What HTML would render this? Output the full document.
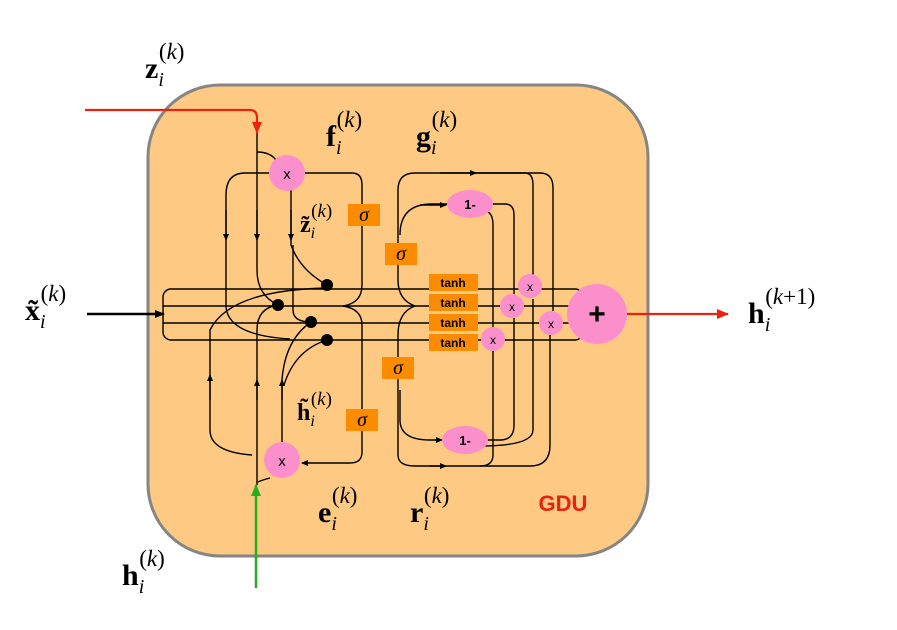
<!DOCTYPE html>
<html><head><meta charset="utf-8"><style>
html,body{margin:0;padding:0;background:#fff}
svg{display:block}
.m{font-family:"Liberation Serif",serif;}
</style></head><body>
<svg width="897" height="630" viewBox="0 0 897 630" xmlns="http://www.w3.org/2000/svg">
<defs>
<marker id="ak" markerWidth="10" markerHeight="8" refX="9" refY="4" orient="auto" markerUnits="userSpaceOnUse"><path d="M0,0 L10,4 L0,8z" fill="#000"/></marker>
<marker id="as" markerWidth="7" markerHeight="6" refX="6" refY="3" orient="auto" markerUnits="userSpaceOnUse"><path d="M0,0 L7,3 L0,6z" fill="#000"/></marker>
<marker id="ar" markerWidth="12" markerHeight="10" refX="11" refY="5" orient="auto" markerUnits="userSpaceOnUse"><path d="M0,0 L12,5 L0,10z" fill="#e8230f"/></marker>
<marker id="ag" markerWidth="12" markerHeight="10" refX="11" refY="5" orient="auto" markerUnits="userSpaceOnUse"><path d="M0,0 L12,5 L0,10z" fill="#22b01c"/></marker>
</defs>
<rect x="148" y="85" width="500" height="471" rx="72" fill="#fec983" stroke="#858585" stroke-width="3"/>

<g fill="none" stroke="#000" stroke-width="1.4">
<rect x="163" y="289" width="420" height="51" rx="8"/>
<line x1="163" y1="306" x2="580" y2="306"/>
<line x1="163" y1="323" x2="580" y2="323"/>
<path d="M257,130 V270 Q257,295 278,305"/>
<path d="M257,210 V240" marker-end="url(#as)"/>
<path d="M257,152 Q270,152 276,160"/>
<path d="M270,173 H245 Q226,173 226,195 V305 Q226,335 290,339"/>
<path d="M226,210 V240" marker-end="url(#as)"/>
<path d="M305,173 H352 Q362,173 362,185 V285 Q362,303 343,306 Q362,309 362,325 V452 Q362,463 350,463 H302" marker-end="url(#as)"/>
<path d="M291,190 V245 Q300,270 327,285"/>
<path d="M291,210 V240" marker-end="url(#as)"/>
<path d="M293,245 V310 Q293,322 311,322"/>
<path d="M327,288 Q230,290 210,330 V430 Q210,452 252,455"/>
<path d="M210,400 V375" marker-end="url(#as)"/>
<path d="M278,305 Q257,308 257,330 V485"/>
<path d="M257,400 V380" marker-end="url(#as)"/>
<path d="M282,442 V380 Q285,340 311,322"/>
<path d="M282,400 V380" marker-end="url(#as)"/>
<path d="M284,385 Q295,350 327,340"/>
<path d="M270,478 Q262,480 258,482"/>
<path d="M415,306 Q398,300 398,280 V190 Q398,173 415,173 H525 Q533,173 533,185 V276"/>
<path d="M440,173 H476" marker-end="url(#as)"/>
<path d="M470,173 H540 Q553,173 553,188 V311"/>
<path d="M448,204 H432 Q400,204 400,235"/>
<path d="M420,205 H446" marker-end="url(#as)"/>
<path d="M490,204 H505 Q514,204 514,215 V294"/>
<path d="M488,212 Q493,215 493,225 V327"/>
<path d="M493,351 V455 Q493,466 480,466"/>
<path d="M415,306 Q398,312 398,335 V455 Q398,466 415,466 H530 Q550,466 550,445 V335"/>
<path d="M430,466 H446" marker-end="url(#as)"/>
<path d="M400,390 V420 Q400,440 430,440 H442" marker-end="url(#as)"/>
<path d="M485,440 H500 Q514,440 514,425 V318"/>
<path d="M480,446 Q533,446 533,430 V299"/>
</g>
<g font-family="Liberation Sans,sans-serif" font-weight="bold" font-size="12" text-anchor="middle">
<rect x="429" y="274" width="49" height="17" fill="#fb8c00"/><text x="453" y="287">tanh</text>
<rect x="429" y="294" width="49" height="17" fill="#fb8c00"/><text x="453" y="307">tanh</text>
<rect x="429" y="314" width="49" height="17" fill="#fb8c00"/><text x="453" y="327">tanh</text>
<rect x="429" y="334" width="49" height="17" fill="#fb8c00"/><text x="453" y="347">tanh</text>
</g>
<g font-family="Liberation Serif,serif" font-style="italic" font-size="20" text-anchor="middle">
<rect x="348" y="204" width="32" height="22" fill="#fb8c00"/><text x="364" y="221">σ</text>
<rect x="385" y="243" width="32" height="22" fill="#fb8c00"/><text x="401" y="260">σ</text>
<rect x="382" y="357" width="32" height="22" fill="#fb8c00"/><text x="398" y="374">σ</text>
<rect x="346" y="409" width="32" height="22" fill="#fb8c00"/><text x="362" y="426">σ</text>
</g>
<g fill="#000"><circle cx="327" cy="285" r="6"/><circle cx="278" cy="305" r="6"/><circle cx="311" cy="322" r="6"/><circle cx="327" cy="340" r="6"/></g>
<g fill="#fb8fcc">
<circle cx="287" cy="173" r="18"/><circle cx="282" cy="460" r="18"/>
<ellipse cx="470" cy="204" rx="23" ry="14"/><ellipse cx="465" cy="440" rx="23" ry="14"/>
<circle cx="530" cy="286" r="12"/><circle cx="512" cy="306" r="12"/><circle cx="551" cy="323" r="12"/><circle cx="493" cy="339" r="12"/>
<circle cx="597" cy="314" r="30"/>
</g>
<g font-family="Liberation Sans,sans-serif" text-anchor="middle" fill="#000">
<text x="287" y="179" font-size="15">x</text><text x="282" y="466" font-size="15">x</text>
<text x="470" y="209" font-size="13" font-weight="bold">1-</text><text x="465" y="445" font-size="13" font-weight="bold">1-</text>
<text x="530" y="291" font-size="12">x</text><text x="512" y="311" font-size="12">x</text><text x="551" y="328" font-size="12">x</text><text x="493" y="344" font-size="12">x</text>
<text x="597" y="324" font-size="30" font-weight="bold">+</text>
<text x="563" y="511" font-size="22" font-weight="bold" fill="#e8230f">GDU</text>
</g>
<path d="M85,110 H250 Q257,110 257,118 V133" fill="none" stroke="#e8230f" stroke-width="2.2" marker-end="url(#ar)"/>
<path d="M627,314 H728" fill="none" stroke="#e8230f" stroke-width="2.2" marker-end="url(#ar)"/>
<path d="M256,588 V485" fill="none" stroke="#22b01c" stroke-width="2.5" marker-end="url(#ag)"/>
<path d="M87,314 H164" fill="none" stroke="#000" stroke-width="2.5" marker-end="url(#ak)"/>
<g class="m" fill="#000">
<text x="145" y="78" font-size="30" font-weight="bold">z<tspan font-size="20" font-style="italic" font-weight="normal" dy="8">i</tspan><tspan font-size="23" font-weight="normal" dx="-5" dy="-27">(<tspan font-style="italic">k</tspan>)</tspan></text>
<text x="326" y="146" font-size="30" font-weight="bold">f<tspan font-size="20" font-style="italic" font-weight="normal" dy="8">i</tspan><tspan font-size="23" font-weight="normal" dx="-5" dy="-27">(<tspan font-style="italic">k</tspan>)</tspan></text>
<text x="416" y="146" font-size="30" font-weight="bold">g<tspan font-size="20" font-style="italic" font-weight="normal" dy="8">i</tspan><tspan font-size="23" font-weight="normal" dx="-5" dy="-27">(<tspan font-style="italic">k</tspan>)</tspan></text>
<text x="300" y="232" font-size="24" font-weight="bold">z̃<tspan font-size="16" font-style="italic" font-weight="normal" dy="6">i</tspan><tspan font-size="19" font-weight="normal" dx="-4" dy="-21">(<tspan font-style="italic">k</tspan>)</tspan></text>
<text x="297" y="420" font-size="24" font-weight="bold">h̃<tspan font-size="16" font-style="italic" font-weight="normal" dy="6">i</tspan><tspan font-size="19" font-weight="normal" dx="-4" dy="-21">(<tspan font-style="italic">k</tspan>)</tspan></text>
<text x="25" y="320" font-size="30" font-weight="bold">x̃<tspan font-size="20" font-style="italic" font-weight="normal" dy="8">i</tspan><tspan font-size="23" font-weight="normal" dx="-5" dy="-27">(<tspan font-style="italic">k</tspan>)</tspan></text>
<text x="748" y="323" font-size="30" font-weight="bold">h<tspan font-size="20" font-style="italic" font-weight="normal" dy="8">i</tspan><tspan font-size="23" font-weight="normal" dx="-5" dy="-27">(<tspan font-style="italic">k</tspan>+1)</tspan></text>
<text x="318" y="522" font-size="30" font-weight="bold">e<tspan font-size="20" font-style="italic" font-weight="normal" dy="8">i</tspan><tspan font-size="23" font-weight="normal" dx="-5" dy="-27">(<tspan font-style="italic">k</tspan>)</tspan></text>
<text x="410" y="522" font-size="30" font-weight="bold">r<tspan font-size="20" font-style="italic" font-weight="normal" dy="8">i</tspan><tspan font-size="23" font-weight="normal" dx="-5" dy="-27">(<tspan font-style="italic">k</tspan>)</tspan></text>
<text x="122" y="585" font-size="30" font-weight="bold">h<tspan font-size="20" font-style="italic" font-weight="normal" dy="8">i</tspan><tspan font-size="23" font-weight="normal" dx="-5" dy="-27">(<tspan font-style="italic">k</tspan>)</tspan></text>
</g>
</svg>
</body></html>
